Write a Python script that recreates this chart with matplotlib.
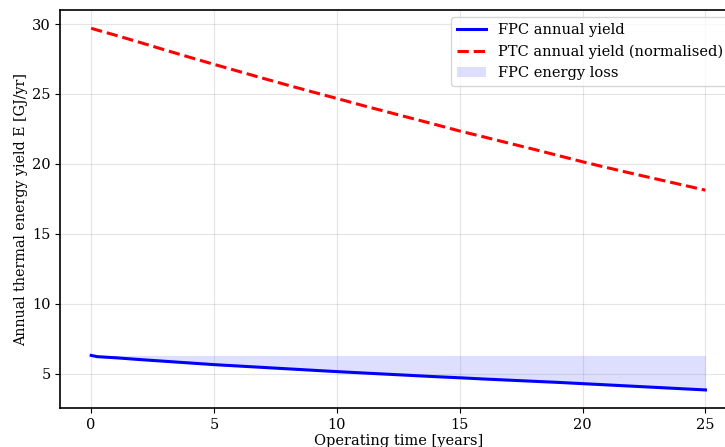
import numpy as np
import matplotlib
matplotlib.use("Agg")
import matplotlib.pyplot as plt

plt.rcParams['font.family'] = ['DejaVu Serif']

# operating time in years (first step resolves the initial settling drop)
years = [0, 0.25, 1, 2, 3, 4, 5, 6, 7, 8, 9, 10, 11, 12, 13, 14, 15,
         16, 17, 18, 19, 20, 21, 22, 23, 24, 25]

# flat-plate collector annual yield [GJ/yr]
fpc_yield = [6.30, 6.21, 6.13, 6.00, 5.88, 5.76, 5.64, 5.54, 5.44, 5.34,
             5.24, 5.14, 5.05, 4.96, 4.87, 4.78, 4.70, 4.61, 4.53, 4.45,
             4.37, 4.28, 4.19, 4.10, 4.01, 3.92, 3.83]

# parabolic trough annual yield, normalised [GJ/yr]
ptc_yield = [29.70, 29.57, 29.20, 28.68, 28.15, 27.63, 27.12, 26.62, 26.12,
             25.63, 25.15, 24.68, 24.20, 23.74, 23.28, 22.82, 22.35, 21.92,
             21.48, 21.05, 20.60, 20.15, 19.73, 19.32, 18.92, 18.52, 18.12]

t = np.array(years)
fpc = np.array(fpc_yield)
ptc = np.array(ptc_yield)

fig = plt.figure(figsize=(7.25, 4.47), dpi=100)
ax = fig.add_axes([0.0834, 0.0872, 0.932, 0.890])

ax.plot(t, fpc, color='blue', lw=2.2, label='FPC annual yield')
ax.plot(t, ptc, color='red', lw=2.2, ls='--', label='PTC annual yield (normalised)')
ax.fill_between(t, fpc, fpc[0], color='blue', alpha=0.13, lw=0,
                label='FPC energy loss')

ax.set_xlabel('Operating time [years]', fontsize=10.5, labelpad=1.5)
ax.set_ylabel('Annual thermal energy yield E [GJ/yr]', fontsize=10.3, labelpad=3)
ax.tick_params(labelsize=10.5)
ax.grid(True, color='gray', alpha=0.2, lw=0.8)
ax.legend(loc='upper right', fontsize=10.5)

for s in ax.spines.values():
    s.set_linewidth(1.2)

fig.savefig('out.png', dpi=100)
